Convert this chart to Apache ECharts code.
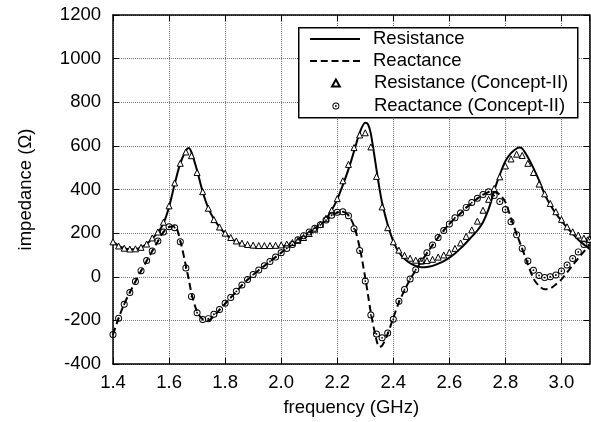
<!DOCTYPE html>
<html><head><meta charset="utf-8">
<script src="https://cdn.jsdelivr.net/npm/echarts@6/dist/echarts.min.js"></script>
<style>html,body{margin:0;padding:0;background:#fff}#c{width:591px;height:422px}</style>
</head><body><div id="c"></div>
<script>
// ---- data (frequency in GHz, impedance in ohm) ----
const lineFreq = [1.40,1.42,1.44,1.46,1.48,1.50,1.52,1.54,1.56,1.58,1.60,1.62,1.64,1.66,1.67,1.68,1.70,1.72,1.74,1.76,1.78,1.80,1.82,1.84,1.86,1.88,1.90,1.92,1.94,1.96,1.98,2.00,2.02,2.04,2.06,2.08,2.10,2.12,2.14,2.16,2.18,2.20,2.22,2.24,2.26,2.28,2.30,2.31,2.32,2.34,2.35,2.36,2.38,2.40,2.42,2.44,2.46,2.48,2.50,2.52,2.54,2.56,2.58,2.60,2.62,2.64,2.66,2.68,2.70,2.72,2.74,2.75,2.76,2.78,2.80,2.82,2.84,2.85,2.86,2.88,2.90,2.92,2.94,2.96,2.98,3.00,3.02,3.04,3.06,3.08,3.10];
const resistance = [160,142,131,126,126,134,150,175,203,245,320,425,520,578,590,570,487,390,315,265,228,198,176,160,148,140,135,133,132,133,135,139,145,152,161,175,195,214,236,265,305,355,420,492,575,660,706,698,655,492,410,340,238,162,112,82,62,50,44,45,50,60,72,88,107,130,156,184,212,250,310,350,395,468,530,567,588,592,587,548,498,442,378,330,290,256,225,197,170,148,128];
const reactance = [-265,-190,-125,-72,-22,26,72,118,162,205,228,232,165,50,-10,-75,-160,-195,-200,-180,-152,-124,-96,-68,-39,-14,9,30,50,70,90,110,130,149,169,187,204,221,238,258,280,294,298,282,232,135,-5,-85,-165,-290,-321,-316,-262,-188,-118,-62,-12,30,70,108,145,180,212,242,268,290,316,338,358,375,388,392,392,376,342,268,196,162,128,58,-8,-42,-57,-53,-35,-12,20,52,85,115,148];

const markerFreq = [1.40,1.42,1.44,1.46,1.48,1.50,1.52,1.54,1.56,1.58,1.60,1.62,1.64,1.66,1.68,1.70,1.72,1.74,1.76,1.78,1.80,1.82,1.84,1.86,1.88,1.90,1.92,1.94,1.96,1.98,2.00,2.02,2.04,2.06,2.08,2.10,2.12,2.14,2.16,2.18,2.20,2.22,2.24,2.26,2.28,2.30,2.32,2.34,2.36,2.38,2.40,2.42,2.44,2.46,2.48,2.50,2.52,2.54,2.56,2.58,2.60,2.62,2.64,2.66,2.68,2.70,2.72,2.74,2.76,2.78,2.80,2.82,2.84,2.86,2.88,2.90,2.92,2.94,2.96,2.98,3.00,3.02,3.04,3.06,3.08,3.10];
const resistanceC2 = [160,141,131,127,128,135,150,178,205,250,325,430,520,572,555,478,390,314,262,228,200,180,164,154,148,145,143,143,143,144,146,150,157,167,180,198,218,240,268,305,358,440,515,592,650,660,595,460,320,225,160,122,98,85,76,72,74,80,90,100,112,130,155,185,215,255,305,355,405,458,508,540,562,556,520,478,425,380,336,298,263,229,206,191,177,172];
const reactanceC2 = [-265,-190,-126,-72,-22,28,74,118,164,205,229,225,160,40,-90,-165,-196,-192,-172,-150,-122,-95,-67,-38,-13,10,31,50,70,90,110,130,148,170,188,205,222,238,260,282,296,298,280,220,120,-20,-175,-262,-280,-258,-195,-112,-58,-10,32,72,110,146,180,212,242,270,292,318,340,360,377,390,372,345,308,252,192,130,72,30,6,-4,0,8,26,54,84,114,148,170];

const seriesNames = ['Resistance','Reactance','Resistance (Concept-II)','Reactance (Concept-II)'];
const xName = 'frequency (GHz)';
const yName = 'impedance (Ω)';

// ---- chart ----
const FONT = 'Liberation Sans, Arial, Helvetica, sans-serif';
const FS = 18.5;
const pair = (xs, ys) => xs.map((x, i) => [x, ys[i]]);
const ringDot = 'path://M0,-5A5,5 0 1,1 0,5A5,5 0 1,1 0,-5Z M0,-3.6A3.6,3.6 0 1,0 0,3.6A3.6,3.6 0 1,0 0,-3.6Z M0,-1.3A1.3,1.3 0 1,1 0,1.3A1.3,1.3 0 1,1 0,-1.3Z';
const triPath = 'path://M5,0L10,9H0Z';

const axisLineStyle = {color:'#000', width:1.5};
const grid = {left:113, right:1.5, top:15, bottom:58, show:false};

const chart = echarts.init(document.getElementById('c'), null, {renderer:'canvas'});
chart.setOption({
  animation:false,
  backgroundColor:'#fff',
  textStyle:{fontFamily:FONT},
  grid:grid,
  xAxis:[{
    type:'value', position:'bottom', min:1.4, max:3.1, interval:0.2,
    name:xName, nameLocation:'middle', nameGap:34,
    nameTextStyle:{fontSize:FS, color:'#000', fontFamily:FONT},
    axisLine:{show:true, onZero:false, lineStyle:axisLineStyle},
    axisTick:{show:true, inside:true, length:6, lineStyle:{color:'#000', width:1}},
    axisLabel:{fontSize:FS, color:'#000', margin:9, fontFamily:FONT, showMaxLabel:false,
      formatter:v => v.toFixed(1)},
    splitLine:{show:true, lineStyle:{type:'dotted', color:'#7a7a7a', width:1}}
  },{
    type:'value', position:'top', min:1.4, max:3.1, interval:0.2,
    axisLine:{show:true, onZero:false, lineStyle:axisLineStyle},
    axisTick:{show:true, inside:true, length:6, lineStyle:{color:'#000', width:1}},
    axisLabel:{show:false}, splitLine:{show:false}
  }],
  yAxis:[{
    type:'value', position:'left', min:-400, max:1200, interval:200,
    name:yName, nameLocation:'middle', nameGap:78, nameRotate:90,
    nameTextStyle:{fontSize:FS, color:'#000', fontFamily:FONT},
    axisLine:{show:true, onZero:false, lineStyle:axisLineStyle},
    axisTick:{show:true, inside:true, length:6, lineStyle:{color:'#000', width:1}},
    axisLabel:{fontSize:FS, color:'#000', margin:12, fontFamily:FONT,
      formatter:v => String(v)},
    splitLine:{show:true, lineStyle:{type:'dotted', color:'#7a7a7a', width:1}}
  },{
    type:'value', position:'right', min:-400, max:1200, interval:200,
    axisLine:{show:true, onZero:false, lineStyle:axisLineStyle},
    axisTick:{show:true, inside:true, length:6, lineStyle:{color:'#000', width:1}},
    axisLabel:{show:false}, splitLine:{show:false}
  }],
  graphic:[{
    type:'rect', left:298, top:27, z:3,
    shape:{x:0, y:0, width:279, height:90},
    style:{fill:'#fff', stroke:'#000', lineWidth:1.5}
  }],
  legend:[{
    orient:'vertical', left:310, top:28, z:5, padding:0, itemGap:0,
    itemWidth:50, itemHeight:14, selectedMode:false,
    textStyle:{fontSize:FS, color:'#000', fontFamily:FONT, lineHeight:22, padding:[0,0,0,8]},
    data:[
      {name:seriesNames[0], icon:'path://M0,0H50V2H0Z'},
      {name:seriesNames[1], icon:'path://M0,0H7V2H0Z M10.75,0H17.75V2H10.75Z M21.5,0H28.5V2H21.5Z M32.25,0H39.25V2H32.25Z M43,0H50V2H43Z'}
    ]
  },{
    orient:'vertical', left:331, top:72, z:5, padding:0, itemGap:1,
    itemWidth:50, itemHeight:7, selectedMode:false,
    textStyle:{fontSize:FS, color:'#000', fontFamily:FONT, lineHeight:22, padding:[0,0,0,8]},
    data:[{name:seriesNames[2], icon:triPath}, {name:seriesNames[3], icon:ringDot}]
  }],
  series:[{
    name:seriesNames[0], type:'line', xAxisIndex:0, yAxisIndex:0,
    data:pair(lineFreq, resistance), showSymbol:false, symbol:'none', smooth:0.3,
    color:'#000', itemStyle:{color:'#000'},
    lineStyle:{color:'#000', width:2}, z:2
  },{
    name:seriesNames[1], type:'line', xAxisIndex:0, yAxisIndex:0,
    data:pair(lineFreq, reactance), showSymbol:false, symbol:'none', smooth:0.3,
    color:'#000', itemStyle:{color:'#000'},
    lineStyle:{color:'#000', width:2, type:[7,4]}, z:2
  },{
    name:seriesNames[2], type:'scatter', xAxisIndex:0, yAxisIndex:0,
    data:pair(markerFreq, resistanceC2), symbol:'triangle', symbolSize:6,
    itemStyle:{color:'#fff', borderColor:'#000', borderWidth:1, opacity:1}, z:4
  },{
    name:seriesNames[3], type:'scatter', xAxisIndex:0, yAxisIndex:0,
    data:pair(markerFreq, reactanceC2), symbol:ringDot, symbolSize:7,
    itemStyle:{color:'#000', opacity:1}, z:4
  }]
});
</script>
</body></html>
